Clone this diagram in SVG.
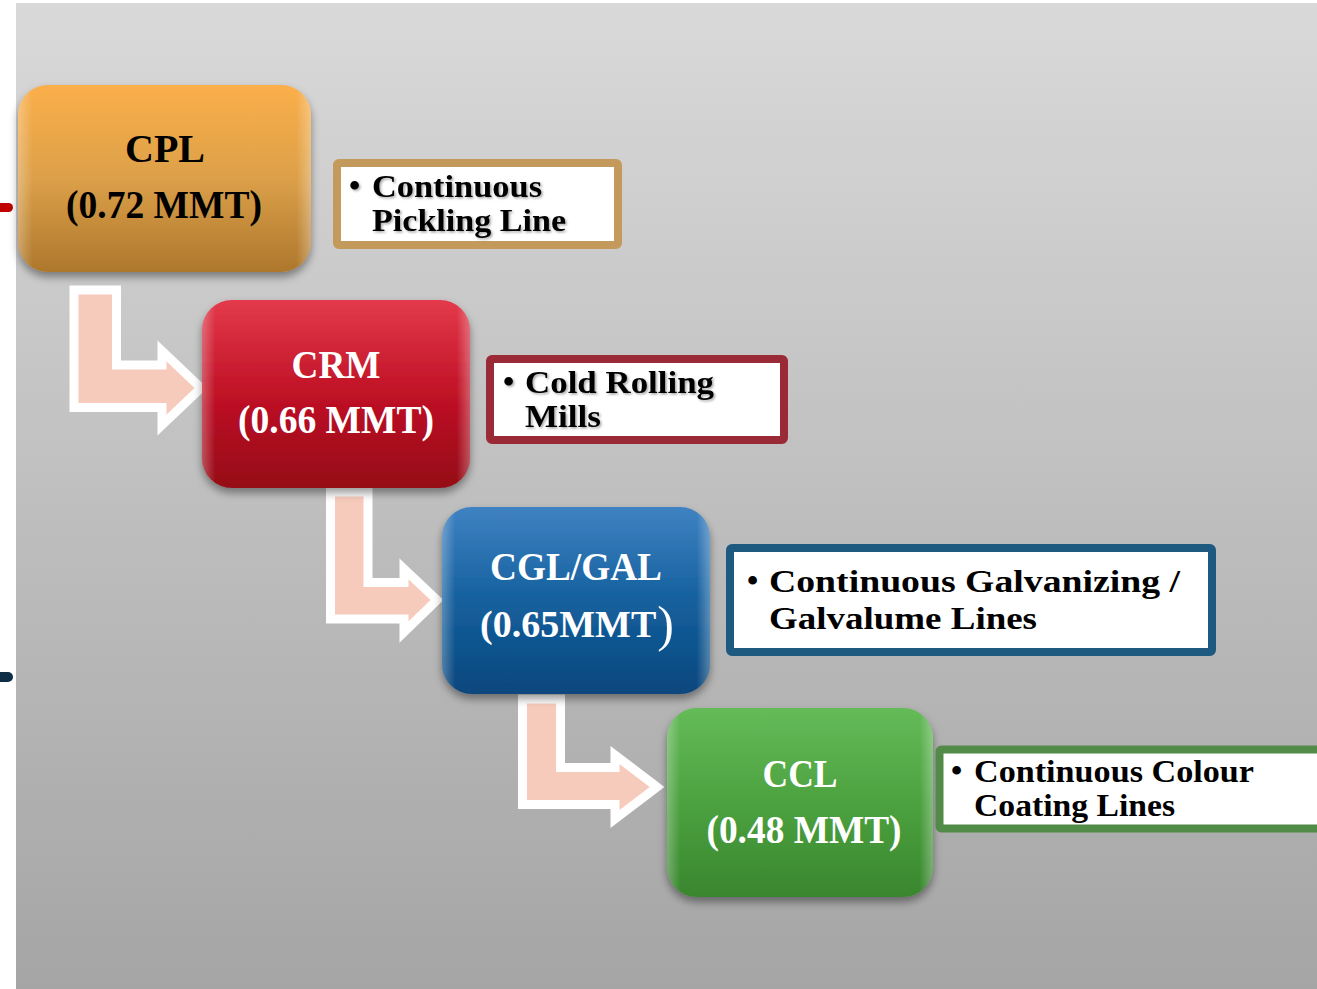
<svg xmlns="http://www.w3.org/2000/svg" width="1317" height="989" viewBox="0 0 1317 989">
<defs>
<linearGradient id="bg" x1="0" y1="0" x2="0" y2="1"><stop offset="0" stop-color="#d9d9d9"/><stop offset="1" stop-color="#a5a5a5"/></linearGradient>
<linearGradient id="gOr" x1="0" y1="0" x2="0" y2="1"><stop offset="0" stop-color="#fbaf4b"/><stop offset="0.5" stop-color="#dca049"/><stop offset="1" stop-color="#ad772c"/></linearGradient>
<linearGradient id="gRd" x1="0" y1="0" x2="0" y2="1"><stop offset="0" stop-color="#e33a4b"/><stop offset="0.5" stop-color="#c01226"/><stop offset="1" stop-color="#950917"/></linearGradient>
<linearGradient id="gBl" x1="0" y1="0" x2="0" y2="1"><stop offset="0" stop-color="#3f82c2"/><stop offset="0.5" stop-color="#15609e"/><stop offset="1" stop-color="#08477d"/></linearGradient>
<linearGradient id="gGr" x1="0" y1="0" x2="0" y2="1"><stop offset="0" stop-color="#64bb58"/><stop offset="0.5" stop-color="#4ca23f"/><stop offset="1" stop-color="#39862e"/></linearGradient>
<linearGradient id="edge" x1="0" y1="0" x2="1" y2="0"><stop offset="0" stop-color="#fff" stop-opacity="0.28"/><stop offset="0.05" stop-color="#fff" stop-opacity="0"/><stop offset="0.95" stop-color="#fff" stop-opacity="0"/><stop offset="1" stop-color="#fff" stop-opacity="0.3"/></linearGradient>
<filter id="sh" x="-10%" y="-10%" width="125%" height="130%"><feDropShadow dx="0" dy="5" stdDeviation="4" flood-color="#000" flood-opacity="0.4"/></filter>
<filter id="tsh" x="-5%" y="-20%" width="110%" height="150%"><feDropShadow dx="1.5" dy="1.5" stdDeviation="1" flood-color="#000" flood-opacity="0.35"/></filter>
</defs>
<style>
.big{font-family:"Liberation Serif","Times New Roman",serif;font-weight:bold;font-size:40px;text-anchor:middle}
.lbl{font-family:"Liberation Serif","Times New Roman",serif;font-weight:bold;font-size:32px;fill:#000}
.arrow{fill:#f7cbbb;stroke:#fff;stroke-width:9;stroke-linejoin:miter}
.lbox{fill:#fff;stroke-width:8}
</style>
<rect x="0" y="0" width="1317" height="989" fill="#fff"/>
<rect x="16" y="3" width="1301" height="986" fill="url(#bg)"/>
<rect x="-5" y="203" width="18" height="9" rx="4.5" fill="#c00000"/>
<rect x="-5" y="672" width="18" height="10" rx="5" fill="#0f2d45"/>
<g id="connectors">
<path class="arrow" d="M74,290 L116.5,290 L116.5,365 L162,365 L162,351 L201,388 L162,425 L162,407.5 L74,407.5 Z"/>
<path class="arrow" d="M330.5,492 L368,492 L368,582.5 L404,582.5 L404,569 L437,600 L404,632 L404,619 L330.5,619 Z"/>
<path class="arrow" d="M522.5,699 L560.5,699 L560.5,767.5 L615,767.5 L615,755 L657,787 L615,819 L615,804.5 L522.5,804.5 Z"/>
</g>
<g id="cpl">
<rect x="18" y="85" width="293" height="187" rx="30" fill="url(#gOr)" filter="url(#sh)"/>
<rect x="18" y="85" width="293" height="187" rx="30" fill="url(#edge)"/>
<text class="big" x="165" y="162" fill="#000">CPL</text>
<text class="big" x="164" y="218" fill="#000" textLength="196" lengthAdjust="spacingAndGlyphs">(0.72 MMT)</text>
</g>
<g id="crm">
<rect x="202" y="300" width="268" height="188" rx="30" fill="url(#gRd)" filter="url(#sh)"/>
<rect x="202" y="300" width="268" height="188" rx="30" fill="url(#edge)"/>
<text class="big" x="336" y="378" fill="#fff" textLength="89" lengthAdjust="spacingAndGlyphs">CRM</text>
<text class="big" x="336" y="433" fill="#fff" textLength="196" lengthAdjust="spacingAndGlyphs">(0.66 MMT)</text>
</g>
<g id="cgl">
<rect x="442" y="507" width="268" height="187" rx="30" fill="url(#gBl)" filter="url(#sh)"/>
<rect x="442" y="507" width="268" height="187" rx="30" fill="url(#edge)"/>
<text class="big" x="576" y="580" fill="#fff" textLength="172" lengthAdjust="spacingAndGlyphs">CGL/GAL</text>
<text class="big" x="480" y="637" fill="#fff" style="text-anchor:start;font-size:38px">(0.65MMT<tspan dx="1" dy="4" style="font-size:50px;font-weight:normal">)</tspan></text>
</g>
<g id="ccl">
<rect x="667" y="708" width="266" height="189" rx="30" fill="url(#gGr)" filter="url(#sh)"/>
<rect x="667" y="708" width="266" height="189" rx="30" fill="url(#edge)"/>
<text class="big" x="800" y="787" fill="#fff" textLength="75" lengthAdjust="spacingAndGlyphs">CCL</text>
<text class="big" x="804" y="843" fill="#fff" textLength="195" lengthAdjust="spacingAndGlyphs">(0.48 MMT)</text>
</g>
<g id="label-cpl">
<rect class="lbox" x="337" y="163" width="281" height="82" rx="2" stroke="#c39a5b"/>
<g filter="url(#tsh)">
<text class="lbl" x="349" y="196">•</text>
<text class="lbl" x="372" y="197" textLength="170" lengthAdjust="spacingAndGlyphs">Continuous</text>
<text class="lbl" x="372" y="231" textLength="194" lengthAdjust="spacingAndGlyphs">Pickling Line</text>
</g>
</g>
<g id="label-crm">
<rect class="lbox" x="490" y="359" width="294" height="81" rx="2" stroke="#9b2a37"/>
<g filter="url(#tsh)">
<text class="lbl" x="503" y="392">•</text>
<text class="lbl" x="525" y="393" textLength="189" lengthAdjust="spacingAndGlyphs">Cold Rolling</text>
<text class="lbl" x="525" y="427" textLength="76" lengthAdjust="spacingAndGlyphs">Mills</text>
</g>
</g>
<g id="label-cgl">
<rect class="lbox" x="730" y="548" width="482" height="104" rx="2" stroke="#1e5a80"/>
<text class="lbl" x="747" y="591">•</text>
<text class="lbl" x="769" y="592" textLength="411" lengthAdjust="spacingAndGlyphs">Continuous Galvanizing /</text>
<text class="lbl" x="769" y="629" textLength="268" lengthAdjust="spacingAndGlyphs">Galvalume Lines</text>
</g>
<g id="label-ccl">
<rect class="lbox" x="939.5" y="749.5" width="400" height="79" rx="2" stroke="#528a47" stroke-width="9"/>
<text class="lbl" x="951" y="781">•</text>
<text class="lbl" x="974" y="782" textLength="280" lengthAdjust="spacingAndGlyphs">Continuous Colour</text>
<text class="lbl" x="974" y="816" textLength="201" lengthAdjust="spacingAndGlyphs">Coating Lines</text>
</g>
</svg>
